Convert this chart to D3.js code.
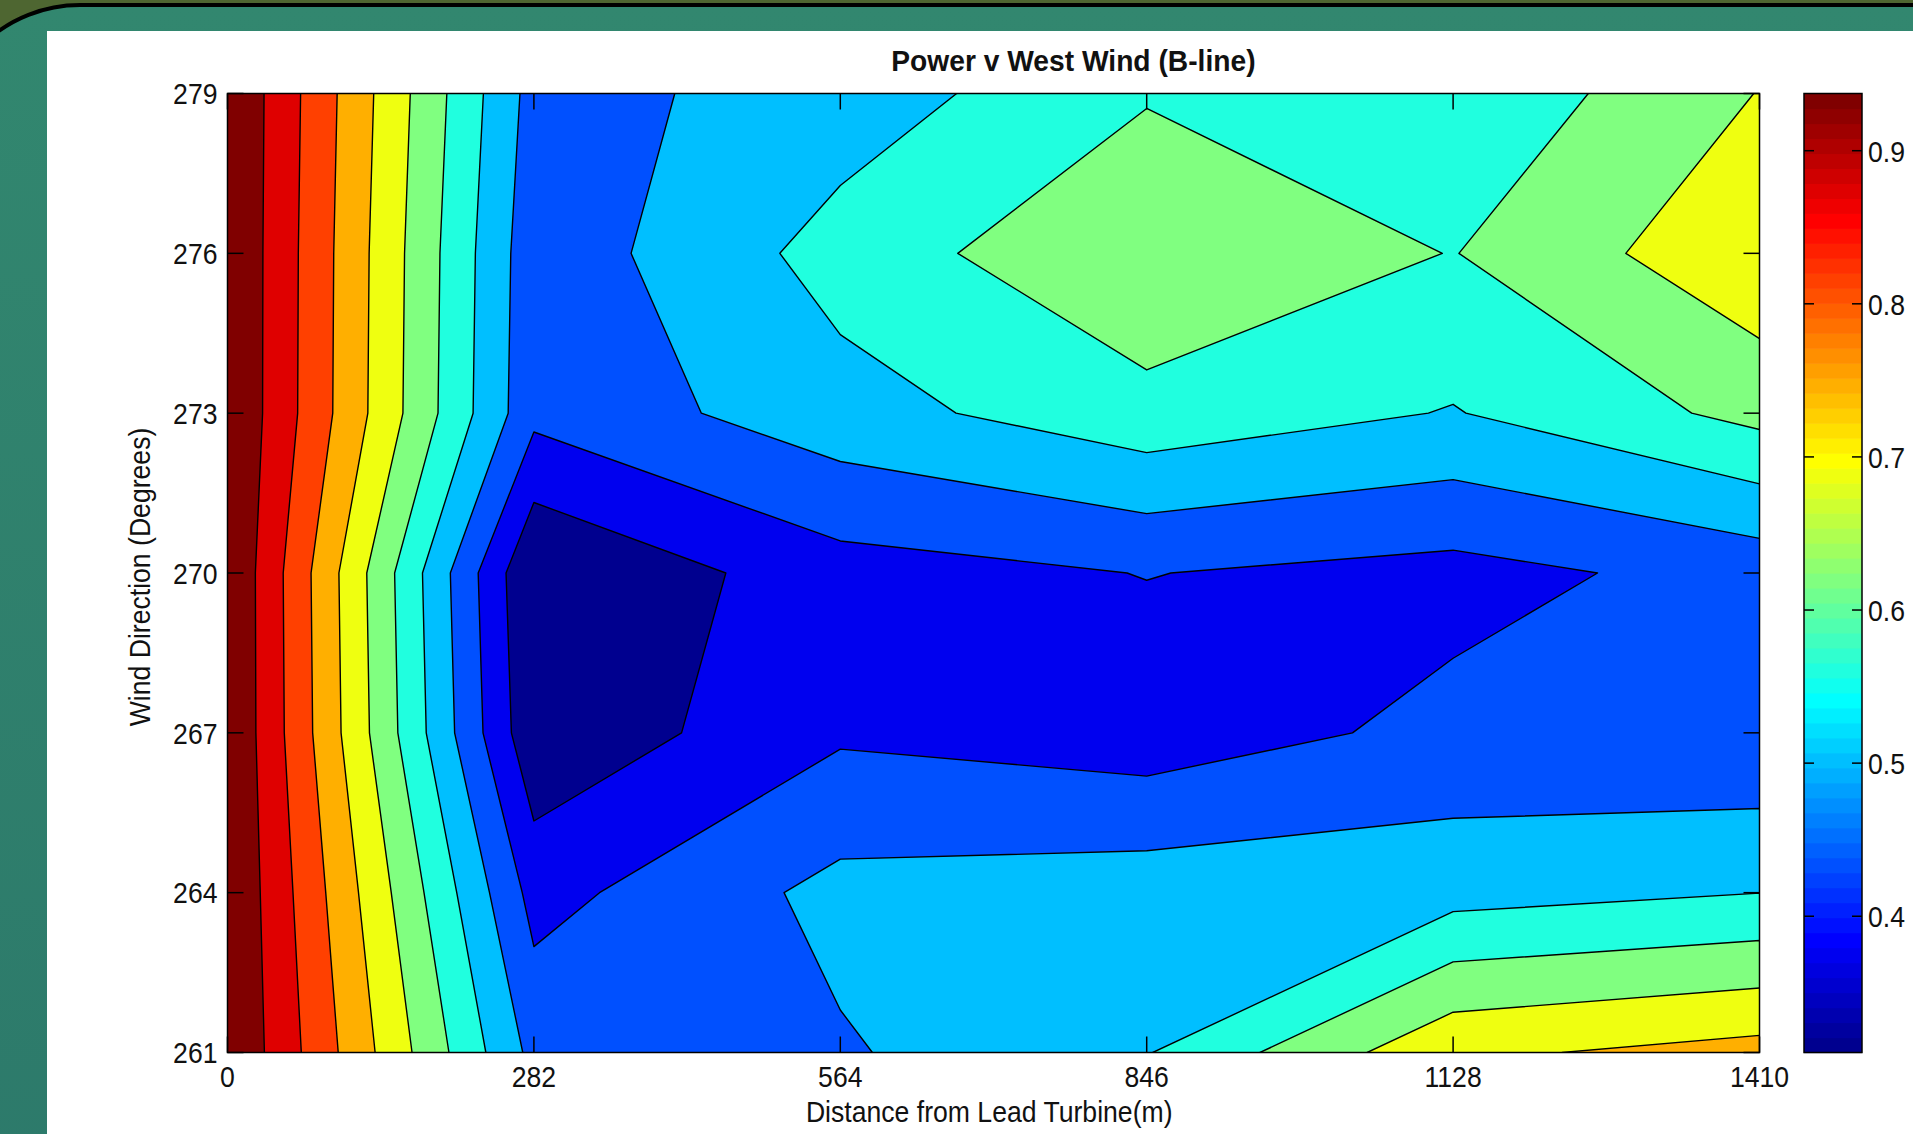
<!DOCTYPE html>
<html>
<head>
<meta charset="utf-8">
<script src="https://cdn.jsdelivr.net/npm/d3@7"></script>
<style>
  html, body { margin: 0; padding: 0; background: #4e6631; overflow: hidden; }
  svg { display: block; }
  text { font-family: 'Liberation Sans', Arial, Helvetica, sans-serif; fill: #111; }
</style>
</head>
<body>
<div id="chart"></div>
<script>
const width = 1913;
const height = 1134;

// Measurement grid
const distances = [0, 282, 564, 846, 1128, 1410];
const directions = [279, 276, 273, 270, 267, 264, 261];

// Normalised power, one row per wind direction (top row = 279 deg)
const power279 = [1.000, 0.475, 0.527, 0.618, 0.573, 0.689];
const power276 = [1.000, 0.458, 0.587, 0.684, 0.622, 0.737];
const power273 = [1.000, 0.453, 0.537, 0.602, 0.558, 0.643];
const power270 = [1.000, 0.311, 0.411, 0.438, 0.416, 0.459];
const power267 = [1.000, 0.324, 0.427, 0.400, 0.454, 0.443];
const power264 = [1.000, 0.414, 0.518, 0.534, 0.538, 0.561];
const power261 = [1.000, 0.480, 0.492, 0.558, 0.737, 0.772];
const powerRows = [power279, power276, power273, power270, power267, power264, power261];

const xTicks = [0, 282, 564, 846, 1128, 1410];
const yTicks = [261, 264, 267, 270, 273, 276, 279];
const colorbarTicks = [0.4, 0.5, 0.6, 0.7, 0.8, 0.9];

const titleText = 'Power v West Wind (B-line)';
const xLabelText = 'Distance from Lead Turbine(m)';
const yLabelText = 'Wind Direction (Degrees)';

const plot = { left: 227.5, right: 1759.5, top: 93.5, bottom: 1052.5 };
const cbar = { left: 1804, right: 1862 };
const tickLen = 16;

// MATLAB style jet colormap
const jet = (m) => {
  const n = Math.ceil(m / 4);
  const u = [
    ...d3.range(1, n + 1).map((i) => i / n),
    ...Array(n - 1).fill(1),
    ...d3.range(n, 0, -1).map((i) => i / n),
  ];
  const g0 = Math.ceil(n / 2) - (m % 4 === 1 ? 1 : 0);
  const rgb = d3.range(m).map(() => [0, 0, 0]);
  u.forEach((val, j) => {
    const g = g0 + j + 1;
    const r = g + n;
    const b = g - n;
    if (r <= m) rgb[r - 1][0] = val;
    if (g <= m) rgb[g - 1][1] = val;
    if (b >= 1) rgb[b - 1][2] = val;
  });
  return rgb.map(([r, g, b]) => d3.rgb(r * 255, g * 255, b * 255).formatHex());
};
const cmap = jet(64);

const values = powerRows.flat();
const zMin = d3.min(values);
const zMax = d3.max(values);
const levels = d3.range(1, 11).map((k) => zMin + (k * (zMax - zMin)) / 11);
const cMin = zMin;
const cMax = levels[levels.length - 1];

const colorFor = (v) => {
  const i = Math.floor(((v - cMin) / (cMax - cMin)) * cmap.length - 1e-9);
  return cmap[Math.max(0, Math.min(cmap.length - 1, i))];
};

const x = d3.scaleLinear().domain([0, 1410]).range([plot.left, plot.right]);
const y = d3.scaleLinear().domain([261, 279]).range([plot.bottom, plot.top]);

const svg = d3
  .select('#chart')
  .append('svg')
  .attr('width', width)
  .attr('height', height);

// Slide background
const defs = svg.append('defs');
const grad = defs
  .append('linearGradient')
  .attr('id', 'teal')
  .attr('x1', 0)
  .attr('y1', 0)
  .attr('x2', 0)
  .attr('y2', 1);
grad.append('stop').attr('offset', '0%').attr('stop-color', '#32876f');
grad.append('stop').attr('offset', '100%').attr('stop-color', '#2c786a');

svg.append('rect').attr('width', width).attr('height', height).attr('fill', '#4e6631');
svg
  .append('rect')
  .attr('x', -60)
  .attr('y', 5)
  .attr('width', width + 200)
  .attr('height', height + 200)
  .attr('rx', 140)
  .attr('fill', 'url(#teal)')
  .attr('stroke', '#000')
  .attr('stroke-width', 4);
svg
  .append('rect')
  .attr('x', 47)
  .attr('y', 31)
  .attr('width', width - 47)
  .attr('height', height - 31)
  .attr('fill', '#fff');

// Contour geometry: d3 puts sample i at grid coord i + 0.5
const dxStep = distances[1] - distances[0];
const dyStep = directions[1] - directions[0];
const gridProjection = d3.geoTransform({
  point(px, py) {
    this.stream.point(
      x(distances[0] + (px - 0.5) * dxStep),
      y(directions[0] + (py - 0.5) * dyStep)
    );
  },
});
const path = d3.geoPath(gridProjection);

const contours = d3
  .contours()
  .size([distances.length, directions.length])
  .thresholds(levels)(values);

defs
  .append('clipPath')
  .attr('id', 'plot-clip')
  .append('rect')
  .attr('x', plot.left)
  .attr('y', plot.top)
  .attr('width', plot.right - plot.left)
  .attr('height', plot.bottom - plot.top);

const area = svg.append('g').attr('clip-path', 'url(#plot-clip)');

area
  .append('rect')
  .attr('x', plot.left)
  .attr('y', plot.top)
  .attr('width', plot.right - plot.left)
  .attr('height', plot.bottom - plot.top)
  .attr('fill', colorFor(zMin));

area
  .selectAll('.band')
  .data(contours)
  .enter()
  .append('path')
  .attr('class', 'band')
  .attr('d', path)
  .attr('fill', (d) => colorFor(d.value))
  .attr('fill-rule', 'evenodd');

area
  .selectAll('.isoline')
  .data(contours)
  .enter()
  .append('path')
  .attr('class', 'isoline')
  .attr('d', path)
  .attr('fill', 'none')
  .attr('stroke', '#000')
  .attr('stroke-width', 1.4)
  .attr('stroke-linejoin', 'round');

// Axes box and inward ticks
const axes = svg.append('g').attr('stroke', '#000').attr('stroke-width', 1.5);
axes
  .append('rect')
  .attr('x', plot.left)
  .attr('y', plot.top)
  .attr('width', plot.right - plot.left)
  .attr('height', plot.bottom - plot.top)
  .attr('fill', 'none');

xTicks.forEach((t) => {
  axes.append('line').attr('x1', x(t)).attr('x2', x(t)).attr('y1', plot.bottom).attr('y2', plot.bottom - tickLen);
  axes.append('line').attr('x1', x(t)).attr('x2', x(t)).attr('y1', plot.top).attr('y2', plot.top + tickLen);
});
yTicks.forEach((t) => {
  axes.append('line').attr('x1', plot.left).attr('x2', plot.left + tickLen).attr('y1', y(t)).attr('y2', y(t));
  axes.append('line').attr('x1', plot.right - tickLen).attr('x2', plot.right).attr('y1', y(t)).attr('y2', y(t));
});

// Text helper: the original font is a little narrower than Arial
const addText = (str, px, py, opts = {}) =>
  svg
    .append('text')
    .attr(
      'transform',
      `translate(${px},${py}) rotate(${opts.rotate || 0}) scale(${opts.sx || 0.887},1)`
    )
    .attr('text-anchor', opts.anchor || 'middle')
    .style('font-size', `${opts.size || 30}px`)
    .style('font-weight', opts.weight || 'normal')
    .text(str);

xTicks.forEach((t) => addText(String(t), x(t), plot.bottom + 34));
yTicks.forEach((t) => addText(String(t), plot.left - 10, y(t) + 10.8, { anchor: 'end' }));

addText(titleText, 1073.4, 70.7, { weight: 'bold', sx: 0.94 });
addText(xLabelText, 989.2, 1121.7);
addText(yLabelText, 150, 577, { rotate: -90 });

// Colorbar
const cb = d3.scaleLinear().domain([cMin, cMax]).range([plot.bottom, plot.top]);
const stripe = (cMax - cMin) / cmap.length;
svg
  .append('g')
  .selectAll('rect')
  .data(cmap)
  .enter()
  .append('rect')
  .attr('x', cbar.left)
  .attr('width', cbar.right - cbar.left)
  .attr('y', (_, i) => cb(cMin + (i + 1) * stripe))
  .attr('height', (_, i) => cb(cMin + i * stripe) - cb(cMin + (i + 1) * stripe) + 0.6)
  .attr('fill', (d) => d);

const cbAxis = svg.append('g').attr('stroke', '#000').attr('stroke-width', 1.5);
cbAxis
  .append('rect')
  .attr('x', cbar.left)
  .attr('y', plot.top)
  .attr('width', cbar.right - cbar.left)
  .attr('height', plot.bottom - plot.top)
  .attr('fill', 'none');
colorbarTicks.forEach((t) => {
  cbAxis.append('line').attr('x1', cbar.left).attr('x2', cbar.left + 10).attr('y1', cb(t)).attr('y2', cb(t));
  cbAxis.append('line').attr('x1', cbar.right - 10).attr('x2', cbar.right).attr('y1', cb(t)).attr('y2', cb(t));
  addText(t.toFixed(1), cbar.right + 6, cb(t) + 10.8, { anchor: 'start' });
});
</script>
</body>
</html>
